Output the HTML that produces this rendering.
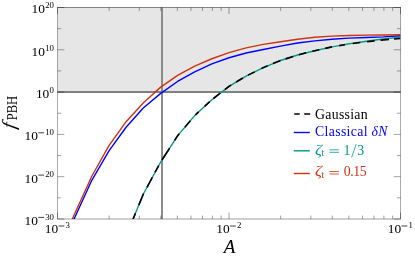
<!DOCTYPE html>
<html><head><meta charset="utf-8"><title>f_PBH vs A</title>
<style>html,body{margin:0;padding:0;background:#fff;}body{width:415px;height:263px;overflow:hidden;font-family:"Liberation Serif",serif;}svg{display:block;will-change:transform;opacity:0.999}</style>
</head><body>
<svg width="415" height="263" viewBox="0 0 415 263">
<rect width="415" height="263" fill="#fff"/>
<rect x="57.5" y="7.5" width="343.0" height="84.6" fill="#e6e6e6"/>
<line x1="57.5" x2="400.5" y1="92" y2="92" stroke="#808080" stroke-width="1.8"/>
<line x1="162" x2="162" y1="7.5" y2="219.0" stroke="#808080" stroke-width="1.8"/>
<clipPath id="c"><rect x="57.5" y="7.5" width="343.0" height="211.5"/></clipPath>
<g clip-path="url(#c)" fill="none" stroke-linejoin="round">
<polyline points="126.10,236.15 143.25,194.22 160.40,162.47 177.55,135.86 194.70,115.60 211.85,99.70 229.00,86.39 246.15,76.05 263.30,67.63 280.45,60.53 297.60,54.99 314.75,50.71 331.90,46.88 335.00,46.36 349.05,43.78 350.00,43.64 365.00,41.46 366.20,41.28 383.00,39.02 383.35,38.97 400.50,37.15" stroke="#009988" stroke-width="1.4"/>
<path d="M133.10,219.04L135.40,213.41M138.80,205.10L143.25,194.22L143.60,193.57M147.00,187.28L152.30,177.47M155.00,172.47L158.70,165.62M162.00,159.99L169.60,148.20M174.70,140.28L177.55,135.86L179.30,133.79M184.90,127.18L190.30,120.80M195.40,114.95L198.70,111.89M204.60,106.42L209.70,101.69M213.40,98.50L220.20,93.22M224.90,89.57L229.00,86.39L231.10,85.12M236.20,82.05L242.90,78.01M248.00,75.14L254.70,71.85M261.50,68.51L263.30,67.63L267.60,65.85M273.00,63.61L280.45,60.53L280.50,60.51M285.60,58.87L293.20,56.41M298.80,54.69L306.20,52.84M312.30,51.32L314.75,50.71L319.30,49.69M325.20,48.38L331.90,46.88L332.00,46.86M339.20,45.66L345.10,44.67M352.70,43.54L360.30,42.57M367.00,41.72L374.60,40.87M380.50,40.21L383.35,39.89L389.00,39.42M394.00,39.00L400.50,38.46" stroke="#000" stroke-width="1.6"/>
<polyline points="57.50,258.79 74.65,217.70 91.80,180.33 108.95,150.94 126.10,127.23 143.25,107.99 160.40,93.66 177.55,81.46 194.70,71.84 211.85,63.93 229.00,57.77 246.15,53.04 263.30,49.46 280.45,46.13 297.60,42.95 314.75,40.91 331.90,39.22 349.05,38.08 366.20,37.48 383.35,36.83 400.50,35.74" stroke="#0000ff" stroke-width="1.4"/>
<polyline points="57.50,254.83 74.65,213.67 91.80,176.23 108.95,145.68 126.10,121.69 143.25,102.91 160.40,87.39 177.55,75.32 194.70,66.02 211.85,58.74 229.00,52.68 246.15,47.88 263.30,44.42 280.45,41.74 297.60,39.26 314.75,37.30 331.90,36.12 349.05,35.43 366.20,35.14 383.35,34.99 400.50,34.78" stroke="#cc3311" stroke-width="1.4"/>
</g>
<path d="M57.5,219.0v-6.5M57.5,7.5v6.5M109.13,219.0v-3.4M109.13,7.5v3.4M139.33,219.0v-3.4M139.33,7.5v3.4M160.75,219.0v-3.4M160.75,7.5v3.4M177.37,219.0v-3.4M177.37,7.5v3.4M190.95,219.0v-3.4M190.95,7.5v3.4M202.43,219.0v-3.4M202.43,7.5v3.4M212.38,219.0v-3.4M212.38,7.5v3.4M221.15,219.0v-3.4M221.15,7.5v3.4M229.0,219.0v-6.5M229.0,7.5v6.5M280.63,219.0v-3.4M280.63,7.5v3.4M310.83,219.0v-3.4M310.83,7.5v3.4M332.25,219.0v-3.4M332.25,7.5v3.4M348.87,219.0v-3.4M348.87,7.5v3.4M362.45,219.0v-3.4M362.45,7.5v3.4M373.93,219.0v-3.4M373.93,7.5v3.4M383.88,219.0v-3.4M383.88,7.5v3.4M392.65,219.0v-3.4M392.65,7.5v3.4M400.5,219.0v-6.5M400.5,7.5v6.5M57.5,219.0h6.8M400.5,219.0h-6.8M57.5,197.85h3.6M400.5,197.85h-3.6M57.5,176.7h6.8M400.5,176.7h-6.8M57.5,155.55h3.6M400.5,155.55h-3.6M57.5,134.4h6.8M400.5,134.4h-6.8M57.5,113.25h3.6M400.5,113.25h-3.6M57.5,92.1h6.8M400.5,92.1h-6.8M57.5,70.95h3.6M400.5,70.95h-3.6M57.5,49.8h6.8M400.5,49.8h-6.8M57.5,28.65h3.6M400.5,28.65h-3.6M57.5,7.5h6.8M400.5,7.5h-6.8" stroke="#000" stroke-opacity="0.36" stroke-width="1" fill="none"/>
<path d="M57.0,7.5H401.0" stroke="#000" stroke-opacity="0.45" stroke-width="1" fill="none"/>
<path d="M57.5,8.0V219.5M400.5,8.0V219.5" stroke="#000" stroke-opacity="0.33" stroke-width="1" fill="none"/>
<path d="M58.0,219.0H400.0" stroke="#000" stroke-opacity="0.38" stroke-width="1" fill="none"/>
<g font-family="Liberation Serif, serif" fill="#000">
<text x="54.00" y="219.70" text-anchor="end" font-size="8.8">30</text><line x1="38.30" x2="44.10" y1="217.40" y2="217.40" stroke="#000" stroke-width="0.75"/><text x="38.00" y="224.80" text-anchor="end" font-size="13.4">10</text>
<text x="54.00" y="177.40" text-anchor="end" font-size="8.8">20</text><line x1="38.30" x2="44.10" y1="175.10" y2="175.10" stroke="#000" stroke-width="0.75"/><text x="38.00" y="182.50" text-anchor="end" font-size="13.4">10</text>
<text x="54.00" y="135.10" text-anchor="end" font-size="8.8">10</text><line x1="38.30" x2="44.10" y1="132.80" y2="132.80" stroke="#000" stroke-width="0.75"/><text x="38.00" y="140.20" text-anchor="end" font-size="13.4">10</text>
<text x="54.00" y="92.80" text-anchor="end" font-size="8.8">0</text><text x="49.30" y="97.90" text-anchor="end" font-size="13.4">10</text>
<text x="54.00" y="50.50" text-anchor="end" font-size="8.8">10</text><text x="44.90" y="55.60" text-anchor="end" font-size="13.4">10</text>
<text x="54.00" y="8.20" text-anchor="end" font-size="8.8">20</text><text x="44.90" y="13.30" text-anchor="end" font-size="13.4">10</text>
<text x="69.85" y="228.30" text-anchor="end" font-size="8.8">3</text><line x1="58.55" x2="64.35" y1="226.00" y2="226.00" stroke="#000" stroke-width="0.75"/><text x="58.25" y="233.40" text-anchor="end" font-size="13.4">10</text>
<text x="241.35" y="228.30" text-anchor="end" font-size="8.8">2</text><line x1="230.05" x2="235.85" y1="226.00" y2="226.00" stroke="#000" stroke-width="0.75"/><text x="229.75" y="233.40" text-anchor="end" font-size="13.4">10</text>
<text x="412.85" y="228.30" text-anchor="end" font-size="8.8">1</text><line x1="401.55" x2="407.35" y1="226.00" y2="226.00" stroke="#000" stroke-width="0.75"/><text x="401.25" y="233.40" text-anchor="end" font-size="13.4">10</text>
<text x="229.5" y="252.6" text-anchor="middle" font-size="19" font-style="italic">A</text>
<text transform="translate(15.0,129.6) rotate(-90) skewX(-10) scale(1.12,1)" font-size="18.65" font-style="italic">f</text>
<text transform="translate(17.1,120.3) rotate(-90) scale(1,1.13)" font-size="12.6">PBH</text>
</g>
<path d="M294.3,114h5.4M304.2,114h6" stroke="#000" stroke-width="1.4" fill="none"/>
<line x1="293.8" x2="309.8" y1="132.5" y2="132.5" stroke="#0000ff" stroke-width="1.4"/>
<line x1="293.8" x2="309.8" y1="150.8" y2="150.8" stroke="#009988" stroke-width="1.4"/>
<line x1="293.8" x2="309.8" y1="173.5" y2="173.5" stroke="#cc3311" stroke-width="1.4"/>
<g font-family="Liberation Serif, serif" font-size="13.8">
<text x="315.1" y="118.5" fill="#000" textLength="52.5" lengthAdjust="spacing">Gaussian</text>
<text x="315.1" y="136.2" fill="#0000ff" textLength="72.4" lengthAdjust="spacing">Classical <tspan font-style="italic">δN</tspan></text>
<text transform="translate(314.9,154.5) scale(1.25,1)" fill="#009988" font-style="italic">ζ</text><text x="321.4" y="156.0" fill="#009988" font-size="9.5">t</text><path d="M329.5,149.80h9.4M329.5,152.30h9.4" stroke="#009988" stroke-width="0.8" fill="none"/><text x="343.6" y="154.5" fill="#009988" font-size="13.8">1</text><text x="357.2" y="154.5" fill="#009988" font-size="13.8">3</text><line x1="351.7" y1="157.3" x2="356.1" y2="144.3" stroke="#009988" stroke-width="0.8"/>
<text transform="translate(314.9,176.2) scale(1.25,1)" fill="#cc3311" font-style="italic">ζ</text><text x="321.4" y="177.7" fill="#cc3311" font-size="9.5">t</text><path d="M329.5,171.50h9.4M329.5,174.00h9.4" stroke="#cc3311" stroke-width="0.8" fill="none"/><text x="343.7" y="176.2" fill="#cc3311" font-size="13.8" textLength="23.0" lengthAdjust="spacing">0.15</text>
</g>
</svg>
</body></html>
